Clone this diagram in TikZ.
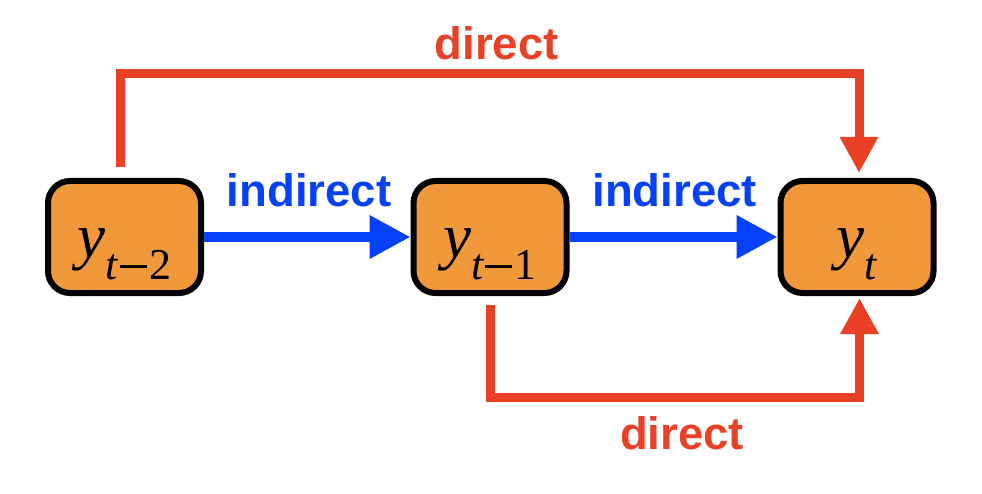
\documentclass[tikz,border=0pt]{standalone}
\usepackage{fontspec}
\setmainfont{Liberation Sans}
\newfontfamily\tms{Liberation Serif}
\usetikzlibrary{arrows.meta}
\definecolor{boxfill}{RGB}{240,152,58}
\definecolor{dirred}{RGB}{234,65,38}
\definecolor{indblue}{RGB}{5,64,250}
\tikzset{
  varbox/.style={draw=black, line width=6pt, fill=boxfill, rounded corners=22pt,
    minimum width=153pt, minimum height=112pt, inner sep=0pt,
    text height=42pt, text depth=0pt},
  directline/.style={draw=dirred, line width=9pt, line join=miter,
    -{Triangle[length=36pt,width=36pt]}},
  indirectline/.style={draw=indblue, line width=10pt,
    -{Triangle[length=41pt,width=41pt]}},
  dirlabel/.style={text=dirred, font=\fontsize{45.5}{50}\selectfont\bfseries, anchor=base, inner sep=0pt},
  indlabel/.style={text=indblue, font=\fontsize{45.5}{50}\selectfont\bfseries, anchor=base, inner sep=0pt},
}
\newcommand{\varlab}[1]{{\tms\fontsize{63}{63}\selectfont\itshape y\raisebox{-22pt}{\fontsize{44}{44}\selectfont #1}}}
\newcommand{\submin}{\hspace{2pt}\rule[11.5pt]{27pt}{3pt}\hspace{2.5pt}}
\begin{document}
\begin{tikzpicture}[x=1pt,y=-1pt]
\path[use as bounding box] (0,0) rectangle (982,494);
\node[varbox] (a) at (124.5,237) {\varlab{\itshape t\submin\upshape 2}};
\node[varbox] (b) at (490,237) {\varlab{\itshape t\submin\upshape 1}};
\node[varbox] (c) at (857,237) {\varlab{\itshape t}};
\coordinate (toplevel) at (0,73.7);
\coordinate (botlevel) at (0,397.5);
% indirect arrows
\draw[indirectline] (a.east) -- (b.west);
\draw[indirectline] (b.east) -- (c.west);
% direct paths
\draw[directline] ([xshift=-4pt,yshift=11pt]a.north) |- ([xshift=2pt]toplevel -| c.north) -- ([xshift=2pt,yshift=5pt]c.north);
\draw[directline] ([xshift=0.5pt,yshift=-9pt]b.south) |- ([xshift=2.5pt]botlevel -| c.south) -- ([xshift=2.5pt,yshift=-2pt]c.south);
% labels
\node[indlabel] (ind1) at (309,206.7) {indirect};
\node[indlabel] (ind2) at (674.7,206.7) {indirect};
\node[dirlabel] (dir1) at (496.7,59.3) {direct};
\node[dirlabel] (dir2) at (682,449) {direct};
\end{tikzpicture}
\end{document}
